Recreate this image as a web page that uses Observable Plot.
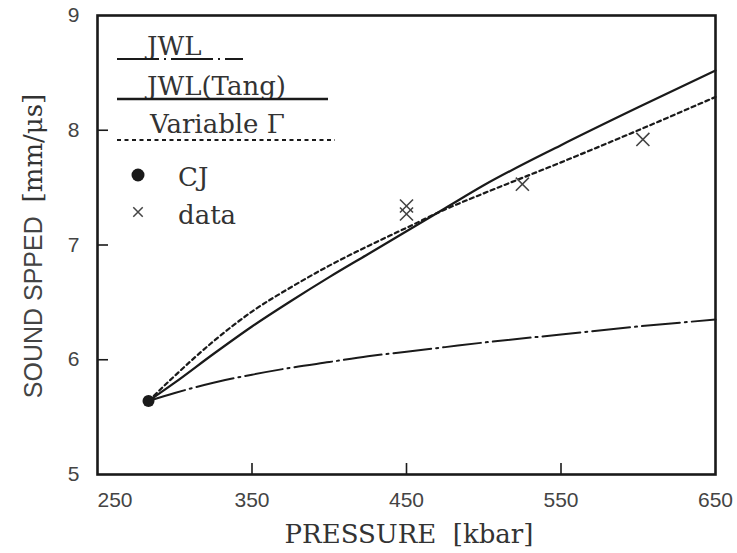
<!DOCTYPE html>
<html><head><meta charset="utf-8">
<script src="https://cdn.jsdelivr.net/npm/d3@7"></script>
<script src="https://cdn.jsdelivr.net/npm/@observablehq/plot@0.6"></script>
<style>body{margin:0;background:#fff} #chart{width:737px;height:553px}</style>
</head><body><div id="chart"></div>
<script>
// ---- data ----
const cjPressure = [283];
const cjSpeed = [5.64];
const curvePressure = [283, 300, 325, 350, 375, 400, 425, 450, 475, 500, 550, 600, 650];
const jwlSpeed      = [5.64, 5.71, 5.80, 5.87, 5.93, 5.98, 6.03, 6.07, 6.11, 6.15, 6.22, 6.29, 6.35];
const tangSpeed     = [5.64, 5.80, 6.05, 6.29, 6.51, 6.72, 6.92, 7.12, 7.32, 7.52, 7.87, 8.20, 8.52];
const vgSpeed       = [5.64, 5.86, 6.16, 6.42, 6.63, 6.82, 6.99, 7.15, 7.31, 7.45, 7.72, 8.00, 8.29];
const dataPressure = [450, 450, 525, 603];
const dataSpeed    = [7.34, 7.27, 7.53, 7.92];
const xTicks = [250, 350, 450, 550, 650];
const yTicks = [5, 6, 7, 8, 9];
const legendLabels = ["JWL", "JWL(Tang)", "Variable \u0393", "CJ", "data"];
const xTitle = "PRESSURE  [kbar]";
const yTitleSans = "SOUND SPPED";
const yTitleSerif = "[mm/\u03bcs]";

const ink = "#1a1a1a";
const serif = "DejaVu Serif";
const sans = "Liberation Sans";

const mk = (ys) => curvePressure.map((p, i) => ({p, v: ys[i]}));
const jwl = mk(jwlSpeed), tang = mk(tangSpeed), vg = mk(vgSpeed);
const pts = dataPressure.map((p, i) => ({p, v: dataSpeed[i]}));
const cj = cjPressure.map((p, i) => ({p, v: cjSpeed[i]}));

const W = 737, H = 553, mL = 97, mR = 22, mT = 15, mB = 79;
const tickLen = 11;
const dashJWL = "38,5,2,5";
const dashVG = "4,3.5";

const svg = Plot.plot({
  width: W, height: H,
  marginLeft: mL, marginRight: mR, marginTop: mT, marginBottom: mB,
  style: {fontFamily: sans, background: "#fff"},
  x: {domain: [250, 650], label: null},
  y: {domain: [5, 9], label: null},
  marks: [
    Plot.axisX({ticks: xTicks.slice(1), tickSize: 0, tickPadding: 18, tickFormat: d => String(d), fontSize: 21, color: "#444", label: null}),
    Plot.axisX({ticks: xTicks.slice(0, 1), tickSize: 0, tickPadding: 18, tickFormat: d => String(d), textAnchor: "start", fontSize: 21, color: "#444", label: null}),
    Plot.axisY({ticks: yTicks, tickSize: 0, tickPadding: 18, tickFormat: d => String(d), fontSize: 21, color: "#444", label: null}),
    // inward tick marks
    Plot.tickX(xTicks.slice(1, -1), {x: d => d, stroke: ink, strokeWidth: 1.6, insetTop: H - mT - mB - tickLen}),
    Plot.tickY(yTicks.slice(1, -1), {y: d => d, stroke: ink, strokeWidth: 1.6, insetRight: W - mL - mR - tickLen}),
    Plot.line(jwl, {x: "p", y: "v", curve: "monotone-x", stroke: ink, strokeWidth: 2, strokeDasharray: dashJWL}),
    Plot.line(tang, {x: "p", y: "v", curve: "monotone-x", stroke: ink, strokeWidth: 2.2}),
    Plot.line(vg, {x: "p", y: "v", curve: "monotone-x", stroke: ink, strokeWidth: 2.2, strokeDasharray: dashVG}),
    Plot.dot(pts, {x: "p", y: "v", symbol: "times", r: 6, stroke: "#444", strokeWidth: 1.6}),
    Plot.dot(cj, {x: "p", y: "v", r: 6, fill: ink, stroke: "none"}),
    Plot.frame({stroke: ink, strokeWidth: 2.6})
  ]
});
document.getElementById("chart").appendChild(svg);

// ---- titles and legend, added into the same SVG ----
const s = d3.select(svg);
s.append("text").attr("x", 409).attr("y", 543).attr("text-anchor", "middle")
  .attr("font-family", serif).attr("font-size", 26).attr("fill", "#333").text(xTitle);

const yt = s.append("text").attr("transform", "translate(42,246) rotate(-90)")
  .attr("text-anchor", "middle").attr("fill", "#444");
yt.append("tspan").attr("font-family", sans).attr("font-size", 25).text(yTitleSans + "  ");
yt.append("tspan").attr("font-family", serif).attr("font-size", 26).attr("fill", "#333").text(yTitleSerif);

const lg = s.append("g").attr("fill", "#333").attr("font-family", serif).attr("font-size", 26)
  .attr("text-anchor", "start");
const lineEntries = [
  {label: legendLabels[0], tx: 147, ty: 55, ly: 59, x2: 243, dash: "42,5,2,5", w: 2.2},
  {label: legendLabels[1], tx: 147, ty: 95, ly: 99, x2: 328, dash: null, w: 2.6},
  {label: legendLabels[2], tx: 150, ty: 133, ly: 140, x2: 335, dash: dashVG, w: 2.2}
];
for (const e of lineEntries) {
  lg.append("text").attr("x", e.tx).attr("y", e.ty).text(e.label);
  const l = lg.append("line").attr("x1", 117).attr("x2", e.x2).attr("y1", e.ly).attr("y2", e.ly)
    .attr("stroke", ink).attr("stroke-width", e.w);
  if (e.dash) l.attr("stroke-dasharray", e.dash);
}
lg.append("circle").attr("cx", 138).attr("cy", 175).attr("r", 6.5).attr("fill", ink);
lg.append("text").attr("x", 178).attr("y", 186).text(legendLabels[3]);
lg.append("path").attr("d", d3.symbol(d3.symbolTimes, 60)()).attr("transform", "translate(138,212)")
  .attr("stroke", "#444").attr("stroke-width", 1.5).attr("fill", "none");
lg.append("text").attr("x", 178).attr("y", 224).text(legendLabels[4]);
</script>
</body></html>
